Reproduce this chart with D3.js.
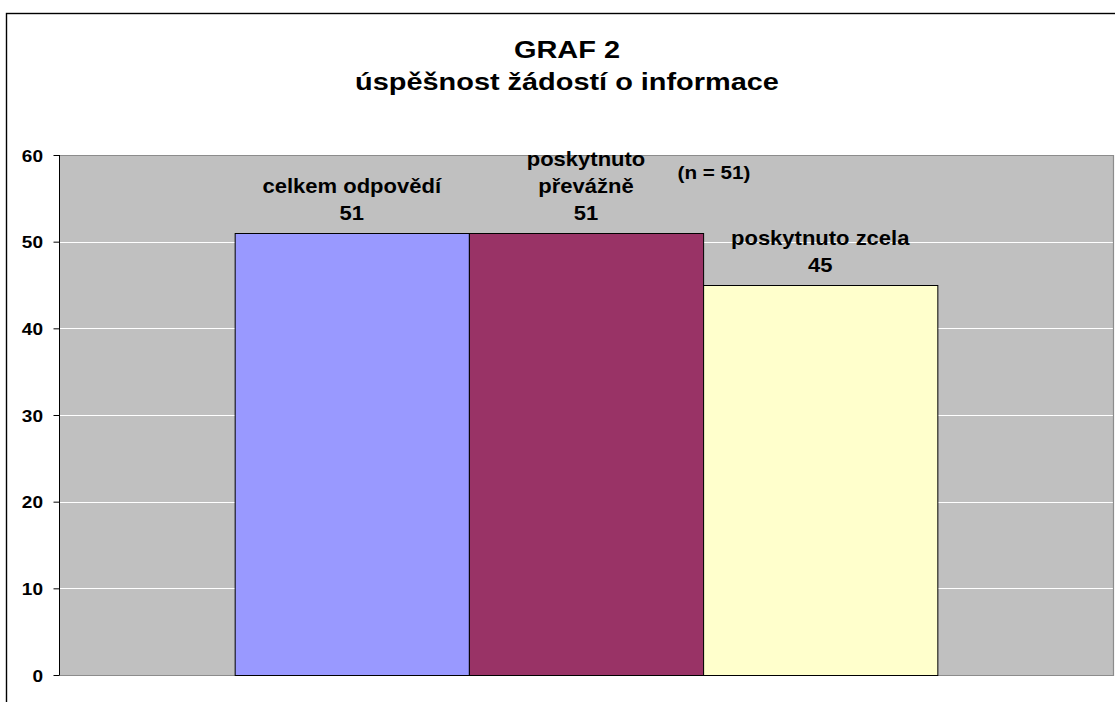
<!DOCTYPE html>
<html>
<head>
<meta charset="utf-8">
<title>GRAF 2</title>
<script src="https://d3js.org/d3.v7.min.js"></script>
<style>
  body { margin: 0; background: #fff; }
  text { font-family: Arial, "Liberation Sans", sans-serif; font-weight: bold; fill: #000; }
</style>
</head>
<body>
<div id="chart"></div>
<script>
// data
var titleLines = ["GRAF 2", "úspěšnost žádostí o informace"];
var series = ["celkem odpovědí", "poskytnuto převážně", "poskytnuto zcela"];
var values = [51, 51, 45];
var labelLines = [["celkem odpovědí", "51"], ["poskytnuto", "převážně", "51"], ["poskytnuto zcela", "45"]];
var colors = ["#9999FF", "#993366", "#FFFFCC"];
var yTicks = [0, 10, 20, 30, 40, 50, 60];
var note = "(n = 51)";
var noteValue = 51;

var W = 1115, H = 702;
var plot = { left: 59, right: 1113, top: 155, bottom: 675 };

var svg = d3.select("#chart").append("svg")
  .attr("width", W)
  .attr("height", H);

// outer frame (runs off the right and bottom edge)
svg.append("rect")
  .attr("x", 6.5).attr("y", 13.5)
  .attr("width", 1300).attr("height", 900)
  .attr("fill", "#fff")
  .attr("stroke", "#000")
  .attr("stroke-width", 1.4);

var y = d3.scaleLinear().domain([0, 60]).range([plot.bottom, plot.top]);
var x0 = d3.scaleBand().domain(["all"]).range([plot.left, plot.right]).paddingOuter(0.25).paddingInner(0);
var x1 = d3.scaleBand().domain(series).range([0, x0.bandwidth()]);

// plot area
svg.append("rect")
  .attr("x", plot.left).attr("y", plot.top)
  .attr("width", plot.right - plot.left).attr("height", plot.bottom - plot.top)
  .attr("fill", "#C0C0C0");

// gridlines
svg.append("g").selectAll("line")
  .data(yTicks.filter(function(d) { return d > 0 && d < 60; }))
  .enter().append("line")
  .attr("x1", plot.left).attr("x2", plot.right)
  .attr("y1", function(d) { return Math.round(y(d)) + 0.5; })
  .attr("y2", function(d) { return Math.round(y(d)) + 0.5; })
  .attr("stroke", "#fff").attr("stroke-width", 1);

// plot border top/right/bottom
svg.append("path")
  .attr("d", "M" + plot.left + "," + (plot.top + 0.5) + "H" + (plot.right + 0.5) + "V" + (plot.bottom + 0.5) + "H" + plot.left)
  .attr("fill", "none").attr("stroke", "#8c8c8c").attr("stroke-width", 1.2);

// bars
svg.append("g").selectAll("rect")
  .data(values)
  .enter().append("rect")
  .attr("x", function(d, i) { return x0("all") + x1(series[i]) + 0.5; })
  .attr("y", function(d) { return y(d) + 0.5; })
  .attr("width", x1.bandwidth())
  .attr("height", function(d) { return y(0) - y(d); })
  .attr("fill", function(d, i) { return colors[i]; })
  .attr("stroke", "#000").attr("stroke-width", 1);

// y axis
var yAxis = d3.axisLeft(y).tickValues(yTicks).tickSize(6).tickPadding(9);
var ga = svg.append("g").attr("transform", "translate(" + (plot.left + 0.5) + ",0)").call(yAxis);
ga.select(".domain").attr("stroke", "#000").attr("d", "M0," + plot.top + "V" + plot.bottom);
ga.selectAll(".tick line").attr("stroke", "#000");
ga.selectAll(".tick text")
  .style("font-size", "17px").style("font-family", "Arial, 'Liberation Sans', sans-serif")
  .style("font-weight", "bold").attr("fill", "#000")
  .attr("dy", "0.36em")
  .attr("transform", "scale(1.12,1)")
  .attr("x", -16.5 / 1.12);

// data labels
var lineH = 27;
series.forEach(function(s, i) {
  var cx = x0("all") + x1(s) + x1.bandwidth() / 2;
  var lines = labelLines[i];
  var base = y(values[i]) - 13;
  lines.forEach(function(t, j) {
    svg.append("text")
      .attr("transform", "translate(" + cx + "," + (base - (lines.length - 1 - j) * lineH) + ") scale(1.1,1)")
      .attr("text-anchor", "middle")
      .style("font-size", "20px")
      .text(t);
  });
});

// sample size note
svg.append("text")
  .attr("transform", "translate(" + 714 + "," + (y(noteValue) - 54) + ") scale(1.15,1)")
  .attr("text-anchor", "middle")
  .style("font-size", "18px")
  .text(note);

// title
titleLines.forEach(function(t, j) {
  svg.append("text")
    .attr("transform", "translate(567," + (58 + j * 32) + ") scale(1.23,1)")
    .attr("text-anchor", "middle")
    .style("font-size", "23.5px")
    .text(t);
});
</script>
</body>
</html>
